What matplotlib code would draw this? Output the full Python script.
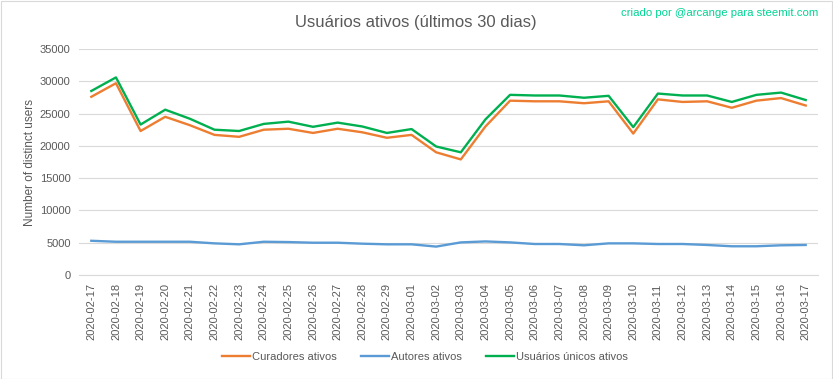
import matplotlib
matplotlib.use("Agg")
import matplotlib.pyplot as plt
from matplotlib.patches import Rectangle

dates = ["2020-02-17", "2020-02-18", "2020-02-19", "2020-02-20", "2020-02-21", "2020-02-22",
         "2020-02-23", "2020-02-24", "2020-02-25", "2020-02-26", "2020-02-27", "2020-02-28",
         "2020-02-29", "2020-03-01", "2020-03-02", "2020-03-03", "2020-03-04", "2020-03-05",
         "2020-03-06", "2020-03-07", "2020-03-08", "2020-03-09", "2020-03-10", "2020-03-11",
         "2020-03-12", "2020-03-13", "2020-03-14", "2020-03-15", "2020-03-16", "2020-03-17"]

curadores = [27600, 29700, 22300, 24500, 23200, 21700, 21400, 22500, 22650, 22000,
             22650, 22100, 21250, 21700, 19000, 17900, 23000, 27000, 26900, 26900,
             26600, 26900, 21900, 27200, 26800, 26900, 25900, 27000, 27400, 26250]

autores = [5300, 5150, 5150, 5150, 5150, 4900, 4750, 5150, 5100, 5000,
           5000, 4850, 4750, 4750, 4400, 5050, 5200, 5050, 4800, 4800,
           4600, 4900, 4900, 4800, 4800, 4650, 4450, 4450, 4600, 4650]

unicos = [28500, 30600, 23300, 25600, 24200, 22500, 22300, 23400, 23750, 22950,
          23600, 23000, 22000, 22600, 19900, 19000, 24100, 27900, 27800, 27800,
          27450, 27750, 22900, 28100, 27800, 27800, 26800, 27900, 28250, 27100]

yticks = [0, 5000, 10000, 15000, 20000, 25000, 30000, 35000]

FONT = ["Liberation Sans Narrow", "Liberation Sans", "DejaVu Sans"]
plt.rcParams["font.family"] = FONT
GRAY = "#595959"

W, H = 833, 379
fig = plt.figure(figsize=(W / 100, H / 100), dpi=100)
fig.patch.set_facecolor("white")
fig.add_artist(Rectangle((0.5 / W, 0.5 / H), 1 - 1.5 / W, 1 - 1.5 / H, transform=fig.transFigure,
                         fill=False, edgecolor="#d9d9d9", linewidth=0.8))

left, right, top, bottom = 79, 818, 49, 275
ax = fig.add_axes([left / W, 1 - bottom / H, (right - left) / W, (bottom - top) / H])

x = list(range(len(dates)))
ax.plot(x, curadores, color="#ED7D31", linewidth=1.7, label="Curadores ativos")
ax.plot(x, autores, color="#5B9BD5", linewidth=1.7, label="Autores ativos")
ax.plot(x, unicos, color="#00B050", linewidth=1.7, label="Usuários únicos ativos")

ax.set_xlim(-0.5, len(dates) - 0.5)
ax.set_ylim(0, 35000)
ax.set_yticks(yticks)
ax.set_yticklabels([str(v) for v in yticks], fontsize=8, color=GRAY)
ax.set_xticks(x)
ax.set_xticklabels(dates, rotation=90, fontsize=8, color=GRAY)
ax.tick_params(axis="both", length=0, pad=6)
ax.grid(axis="y", color="#d9d9d9", linewidth=0.8)
ax.set_axisbelow(True)
for s in ["top", "right", "left"]:
    ax.spines[s].set_visible(False)
ax.spines["bottom"].set_color("#d9d9d9")
ax.spines["bottom"].set_linewidth(0.8)

ax.set_ylabel("Number of distinct users", fontsize=8.5, color=GRAY, labelpad=3)

fig.text(416 / W, 1 - 22 / H, "Usuários ativos (últimos 30 dias)", ha="center", va="center",
         fontsize=12, color=GRAY)
fig.text(818 / W, 1 - 13 / H, "criado por @arcange para steemit.com", ha="right", va="center",
         fontsize=8.2, color="#00D492")

fig.legend(loc="center", bbox_to_anchor=(425 / W, 1 - 357 / H), ncol=3, frameon=False,
           fontsize=8, labelcolor=GRAY, handlelength=2.5, handletextpad=0.2, columnspacing=2.2)

fig.savefig("out.png", dpi=100)
